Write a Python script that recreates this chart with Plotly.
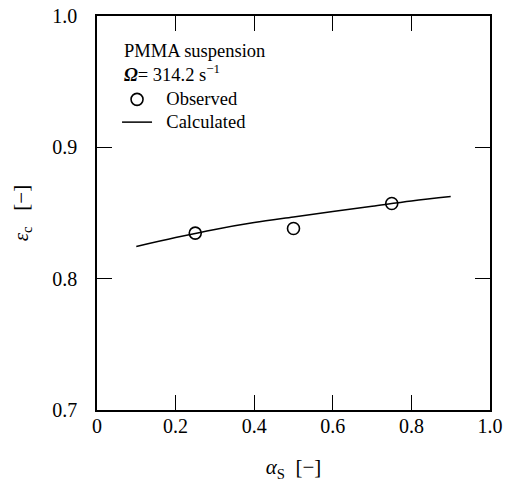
import plotly.graph_objects as go

obs_x = [0.25, 0.5, 0.75]
obs_y = [0.8347, 0.8382, 0.8572]

calc_x = [0.1, 0.2, 0.3, 0.4, 0.5, 0.6, 0.7, 0.8, 0.9]
calc_y = [0.8245, 0.8313, 0.8375, 0.8427, 0.8470, 0.8512, 0.8552, 0.8592, 0.8625]

x_ticks = [0, 0.2, 0.4, 0.6, 0.8, 1.0]
x_tick_labels = ["0", "0.2", "0.4", "0.6", "0.8", "1.0"]
y_ticks = [0.7, 0.8, 0.9, 1.0]
y_tick_labels = ["0.7", "0.8", "0.9", "1.0"]

info_lines = ["PMMA suspension", "<b><i>Ω</i></b>= 314.2 s<sup>−1</sup>"]

FONT = "Liberation Serif, Times New Roman, serif"
TXT = 18.5
NB = "\u00a0\u00a0"


def big(s, size=TXT):
    return "<span style='font-size:%spx'>%s</span>" % (size, s)


fig = go.Figure()
fig.add_trace(go.Scatter(
    x=obs_x, y=obs_y, mode="markers", name=big(NB + "Observed"),
    marker=dict(symbol="circle-open", size=12, color="black", line=dict(width=1.6, color="black")),
))
fig.add_trace(go.Scatter(
    x=calc_x, y=calc_y, mode="lines", name=big(NB + "Calculated"),
    line=dict(color="black", width=1.5, shape="spline"),
))

axis_common = dict(
    showline=True, linecolor="black", linewidth=1.5, mirror="ticks",
    ticks="inside", ticklen=15, tickwidth=1.2, tickcolor="black",
    showgrid=False, zeroline=False, automargin=False,
    tickfont=dict(family=FONT, size=20, color="black"),
)

fig.update_xaxes(range=[0, 1.0], tickvals=x_ticks, ticktext=x_tick_labels,
                 ticklabelstandoff=-3,
                 title=dict(text="<i>α</i><sub>S</sub>  [−]", font=dict(family=FONT, size=21, color="black"), standoff=24),
                 **axis_common)
fig.update_yaxes(range=[0.7, 1.0], tickvals=y_ticks, ticktext=y_tick_labels,
                 ticklabelstandoff=14,
                 title=dict(text="<i>ε</i><sub>c</sub>   [−]", font=dict(family=FONT, size=21, color="black"), standoff=18),
                 **axis_common)

for txt, yy in zip(info_lines, [0.912, 0.856]):
    fig.add_annotation(text=txt, xref="paper", yref="paper", x=0.0636, y=yy,
                       xanchor="left", yanchor="middle", showarrow=False,
                       font=dict(family=FONT, size=TXT, color="black"))

fig.update_layout(
    width=507, height=482,
    margin=dict(l=97, r=17, t=16, b=72),
    paper_bgcolor="white", plot_bgcolor="white",
    font=dict(family=FONT, size=17, color="black"),
    showlegend=True,
    legend=dict(
        x=0.051, y=0.83, xanchor="left", yanchor="top",
        bgcolor="rgba(0,0,0,0)",
        font=dict(family=FONT, size=15.2, color="black"),
        tracegroupgap=0, itemwidth=30,
    ),
)

fig.write_html("out.html", config={"displayModeBar": False},
               post_script="document.body.style.margin='0';")
